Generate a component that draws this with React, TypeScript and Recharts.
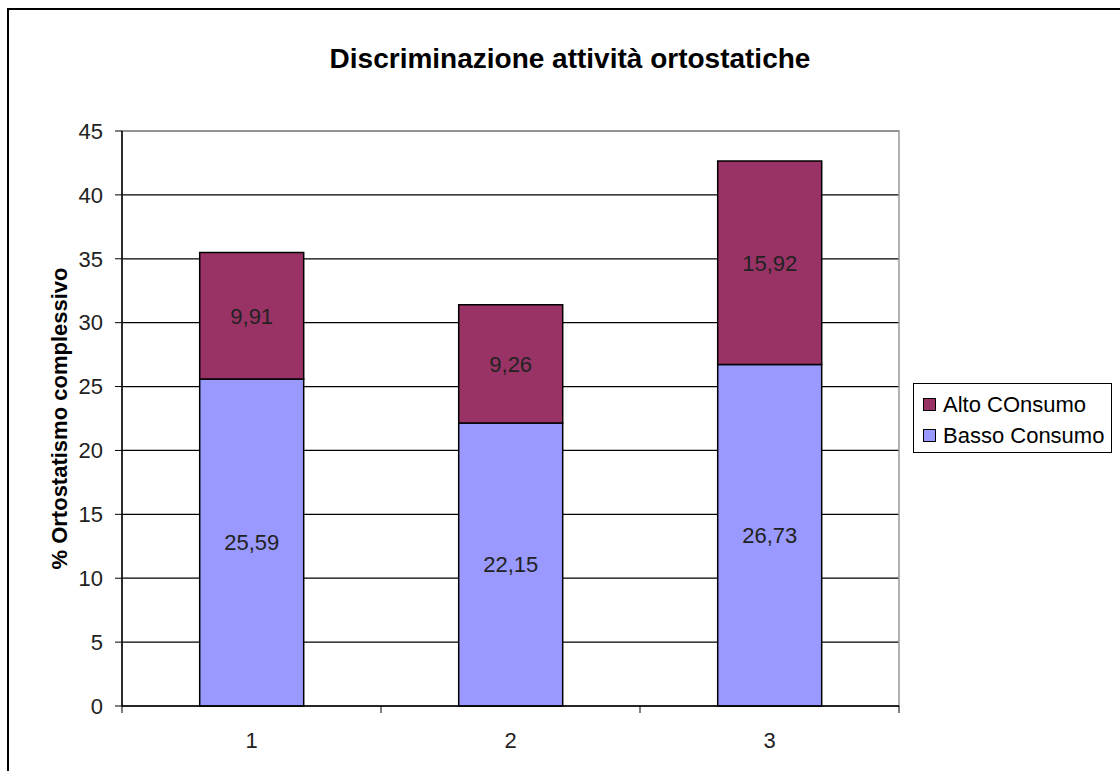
import React from 'react';
import {
  BarChart,
  Bar,
  XAxis,
  YAxis,
  CartesianGrid,
  Legend,
  LabelList,
  ReferenceArea,
} from 'recharts';

// Categories and series values
const categories = ['1', '2', '3'];
const bassoConsumo = [25.59, 22.15, 26.73];
const altoConsumo = [9.91, 9.26, 15.92];
const yTicks = [0, 5, 10, 15, 20, 25, 30, 35, 40, 45];

const seriesNames = { alto: 'Alto COnsumo', basso: 'Basso Consumo' };
const seriesColors = { alto: '#993366', basso: '#9999FF' };

const rows = categories.map((cat, i) => ({
  cat,
  basso: bassoConsumo[i],
  alto: altoConsumo[i],
}));

const FONT = '"Liberation Sans", Arial, Helvetica, sans-serif';

const formatValue = (v: any) => Number(v).toFixed(2).replace('.', ',');

// Category tick: label in the middle, tick marks on the category boundaries
function CategoryTick(props: any) {
  const { x, y, payload, index, visibleTicksCount } = props;
  const half = payload && typeof payload.offset === 'number' ? payload.offset : 0;
  const axisY = y - 26;
  return (
    <g>
      <line x1={x - half} x2={x - half} y1={axisY} y2={axisY + 7} stroke="#000" />
      {index === visibleTicksCount - 1 && (
        <line x1={x + half} x2={x + half} y1={axisY} y2={axisY + 7} stroke="#000" />
      )}
      <text
        x={x}
        y={y}
        dy="0.71em"
        textAnchor="middle"
        fontFamily={FONT}
        fontSize={22}
        fill="#222"
      >
        {payload.value}
      </text>
    </g>
  );
}

function LegendBox() {
  const items: Array<'alto' | 'basso'> = ['alto', 'basso'];
  return (
    <div
      style={{
        boxSizing: 'border-box',
        width: 199,
        height: 70,
        border: '1.5px solid #000',
        background: '#fff',
        fontFamily: FONT,
        fontSize: 22,
        color: '#000',
        padding: '5px 0 0 9px',
      }}
    >
      {items.map((k) => (
        <div key={k} style={{ display: 'flex', alignItems: 'center', height: 31 }}>
          <span
            style={{
              display: 'inline-block',
              width: 11,
              height: 11,
              background: seriesColors[k],
              border: '1px solid #000',
              marginRight: 7,
            }}
          />
          <span>{seriesNames[k]}</span>
        </div>
      ))}
    </div>
  );
}

export default function App() {
  return (
    <div
      style={{
        position: 'absolute',
        left: 0,
        top: 0,
        width: 1120,
        height: 771,
        background: '#fff',
        overflow: 'hidden',
        fontFamily: FONT,
      }}
    >
      {/* chart frame */}
      <div
        style={{
          position: 'absolute',
          left: 7,
          top: 8,
          width: 1200,
          height: 900,
          borderLeft: '2px solid #000',
          borderTop: '2px solid #000',
        }}
      />
      <div
        style={{
          position: 'absolute',
          left: 20,
          top: 43,
          width: 1100,
          textAlign: 'center',
          fontWeight: 'bold',
          fontSize: 28,
          color: '#000',
        }}
      >
        Discriminazione attività ortostatiche
      </div>
      <div style={{ position: 'absolute', left: 0, top: 0 }}>
        <BarChart
          width={1120}
          height={771}
          data={rows}
          margin={{ top: 131, right: 221, bottom: 35, left: 0 }}
          barCategoryGap="30%"
        >
          <CartesianGrid vertical={false} stroke="#000" strokeWidth={1.2} />
          <ReferenceArea y1={0} y2={45} fill="none" stroke="#999" strokeWidth={1.5} />
          <XAxis
            dataKey="cat"
            height={30}
            tickSize={7}
            tickMargin={19}
            tickLine={false}
            axisLine={{ stroke: '#000', strokeWidth: 1.5 }}
            tick={<CategoryTick />}
            interval={0}
          />
          <YAxis
            width={122}
            domain={[0, 45]}
            ticks={yTicks}
            interval={0}
            tickSize={7}
            tickMargin={12}
            axisLine={{ stroke: '#000', strokeWidth: 1.5 }}
            tickLine={{ stroke: '#000' }}
            tick={{ fontFamily: FONT, fontSize: 22, fill: '#222' }}
            label={{
              value: '% Ortostatismo complessivo',
              angle: -90,
              position: 'center',
              dx: -2,
              style: { fontFamily: FONT, fontSize: 22, fontWeight: 'bold', fill: '#000' },
            }}
          />
          <Legend
            layout="vertical"
            align="center"
            verticalAlign="middle"
            wrapperStyle={{ left: 913, top: 383, width: 199, height: 70 }}
            content={() => <LegendBox />}
          />
          <Bar
            dataKey="basso"
            name={seriesNames.basso}
            stackId="s"
            fill={seriesColors.basso}
            stroke="#000"
            strokeWidth={1.5}
            isAnimationActive={false}
          >
            <LabelList
              dataKey="basso"
              position="center"
              formatter={formatValue}
              style={{ fontFamily: FONT, fontSize: 22, fill: '#222' }}
            />
          </Bar>
          <Bar
            dataKey="alto"
            name={seriesNames.alto}
            stackId="s"
            fill={seriesColors.alto}
            stroke="#000"
            strokeWidth={1.5}
            isAnimationActive={false}
          >
            <LabelList
              dataKey="alto"
              position="center"
              formatter={formatValue}
              style={{ fontFamily: FONT, fontSize: 22, fill: '#222' }}
            />
          </Bar>
        </BarChart>
      </div>
    </div>
  );
}
